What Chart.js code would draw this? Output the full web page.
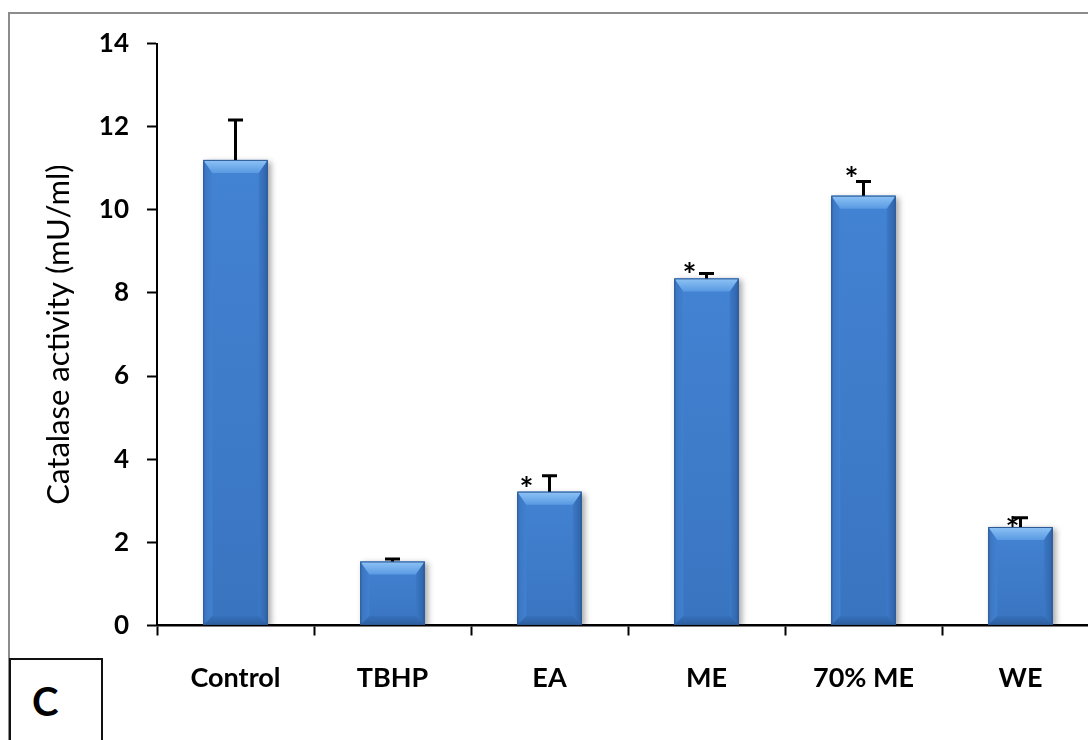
<!DOCTYPE html>
<html>
<head>
<meta charset="utf-8">
<script src="https://cdn.jsdelivr.net/npm/chart.js@4.4.1/dist/chart.umd.min.js"></script>
<style>
	html, body { margin: 0; padding: 0; background: #fff; width: 1088px; height: 740px; overflow: hidden; }
	#frame { position: absolute; left: 8px; top: 12px; width: 1200px; height: 800px; border-left: 2px solid #8c8c8c; border-top: 2px solid #8c8c8c; }
	#panel { position: absolute; left: 9px; top: 658px; width: 90px; height: 120px; border: 2px solid #111; background: #fff; }
	#panel span { position: absolute; left: 21px; top: 17px; font: bold 40px Lato, sans-serif; color: #000; }
	#chart { position: absolute; left: 0; top: 0; }
</style>
</head>
<body>
<div id="frame"></div>
<div id="panel"><span>C</span></div>
<canvas id="chart" width="1100" height="740"></canvas>
<script>
var groups = ['Control', 'TBHP', 'EA', 'ME', '70% ME', 'WE'];
var catalase = [11.2, 1.54, 3.22, 8.35, 10.34, 2.37];
var catalaseErr = [0.96, 0.06, 0.38, 0.12, 0.34, 0.22];
var significant = [false, false, true, true, true, true];
var yTicks = [0, 2, 4, 6, 8, 10, 12, 14];

var font = 'Lato, sans-serif';

function poly(ctx, pts, fill) {
	ctx.fillStyle = fill;
	ctx.beginPath();
	ctx.moveTo(pts[0][0], pts[0][1]);
	for (var k = 1; k < pts.length; k++) ctx.lineTo(pts[k][0], pts[k][1]);
	ctx.closePath();
	ctx.fill();
}

// bevelled bars, error caps and the significance stars
var barDecor = {
	id: 'barDecor',
	beforeDatasetsDraw: function (chart) {
		var ctx = chart.ctx;
		ctx.save();
		ctx.shadowColor = 'rgba(0,0,0,0.35)';
		ctx.shadowBlur = 6;
		ctx.shadowOffsetX = 3;
		ctx.shadowOffsetY = 2;
	},
	afterDatasetsDraw: function (chart, args, opts) {
		var ctx = chart.ctx;
		ctx.restore();
		var meta = chart.getDatasetMeta(0);
		var yScale = chart.scales.y;

		meta.data.forEach(function (bar, i) {
			var p = bar.getProps(['x', 'y', 'base', 'width'], true);
			var x0 = p.x - p.width / 2, x1 = p.x + p.width / 2;
			var top = p.y, bottom = p.base;
			var b = Math.min(13, p.width / 4, (bottom - top) / 2);
			var sb = 9;

			var face = ctx.createLinearGradient(0, top, 0, bottom);
			face.addColorStop(0, '#4383d3');
			face.addColorStop(1, '#3974c0');
			ctx.fillStyle = face;
			ctx.fillRect(x0, top, p.width, bottom - top);

			var left = ctx.createLinearGradient(x0, 0, x0 + sb, 0);
			left.addColorStop(0, '#3a74bf');
			left.addColorStop(1, '#4181d0');
			poly(ctx, [[x0, top], [x0 + sb, top + b], [x0 + sb, bottom - sb], [x0, bottom]], left);

			var right = ctx.createLinearGradient(x1 - sb, 0, x1, 0);
			right.addColorStop(0, '#3c79c7');
			right.addColorStop(1, '#2f63a8');
			poly(ctx, [[x1, top], [x1 - sb, top + b], [x1 - sb, bottom - sb], [x1, bottom]], right);

			var btm = ctx.createLinearGradient(0, bottom - sb, 0, bottom);
			btm.addColorStop(0, '#3671bb');
			btm.addColorStop(1, '#2d5e9f');
			poly(ctx, [[x0, bottom], [x0 + sb, bottom - sb], [x1 - sb, bottom - sb], [x1, bottom]], btm);

			var topGrad = ctx.createLinearGradient(0, top, 0, top + b);
			topGrad.addColorStop(0, '#8ec3f6');
			topGrad.addColorStop(1, '#5a9ae2');
			poly(ctx, [[x0, top], [x1, top], [x1 - sb, top + b], [x0 + sb, top + b]], topGrad);

			ctx.strokeStyle = '#2c5893';
			ctx.lineWidth = 1;
			ctx.strokeRect(x0 + 0.5, top + 0.5, p.width - 1, bottom - top - 1);

			// upper error bar
			var errTop = yScale.getPixelForValue(catalase[i] + catalaseErr[i]);
			ctx.strokeStyle = '#000';
			ctx.lineWidth = 3;
			ctx.beginPath();
			ctx.moveTo(p.x, top); ctx.lineTo(p.x, errTop);
			ctx.moveTo(p.x - 7.5, errTop); ctx.lineTo(p.x + 7.5, errTop);
			ctx.stroke();

			if (significant[i]) {
				var s = opts.starShift[i];
				ctx.fillStyle = '#000';
				ctx.font = 'bold 33px ' + font;
				ctx.textAlign = 'center';
				ctx.textBaseline = 'alphabetic';
				ctx.fillText('*', p.x + s[0], errTop + s[1] + 19);
			}
		});
	}
};

new Chart(document.getElementById('chart'), {
	type: 'bar',
	data: {
		labels: groups,
		datasets: [{
			data: catalase,
			backgroundColor: '#3d7bc9',
			borderWidth: 0,
			categoryPercentage: 1,
			barPercentage: 0.41
		}]
	},
	options: {
		responsive: false,
		animation: false,
		layout: { padding: { top: 43.5, right: 1, left: 0, bottom: 0 } },
		plugins: {
			legend: { display: false },
			tooltip: { enabled: false },
			barDecor: { starShift: [[0, 0], [0, 0], [-23, 6], [-17, -5], [-12, -10], [-8, 4]] }
		},
		scales: {
			x: {
				afterFit: function (scale) { scale.height = 114.5; },
				grid: { display: true, drawOnChartArea: false, drawTicks: true, tickLength: 10, tickWidth: 2, tickColor: '#000', offset: true },
				border: { display: true, color: '#000', width: 2.5 },
				ticks: { color: '#000', padding: 27, font: { family: font, size: 27, weight: 'bold' } }
			},
			y: {
				min: 0,
				max: 14,
				afterFit: function (scale) { scale.width = 157; },
				afterBuildTicks: function (scale) {
					scale.ticks = yTicks.map(function (v) { return { value: v }; });
				},
				grid: { display: true, drawOnChartArea: false, drawTicks: true, tickLength: 10, tickWidth: 2, tickColor: '#000' },
				border: { display: true, color: '#000', width: 2 },
				ticks: { color: '#000', padding: 18, font: { family: font, size: 26, weight: 'bold' } },
				title: {
					display: true,
					text: 'Catalase activity (mU/ml)',
					color: '#000',
					padding: { top: 40, bottom: 0 },
					font: { family: font, size: 31, weight: 'normal' }
				}
			}
		}
	},
	plugins: [barDecor]
});
</script>
</body>
</html>
